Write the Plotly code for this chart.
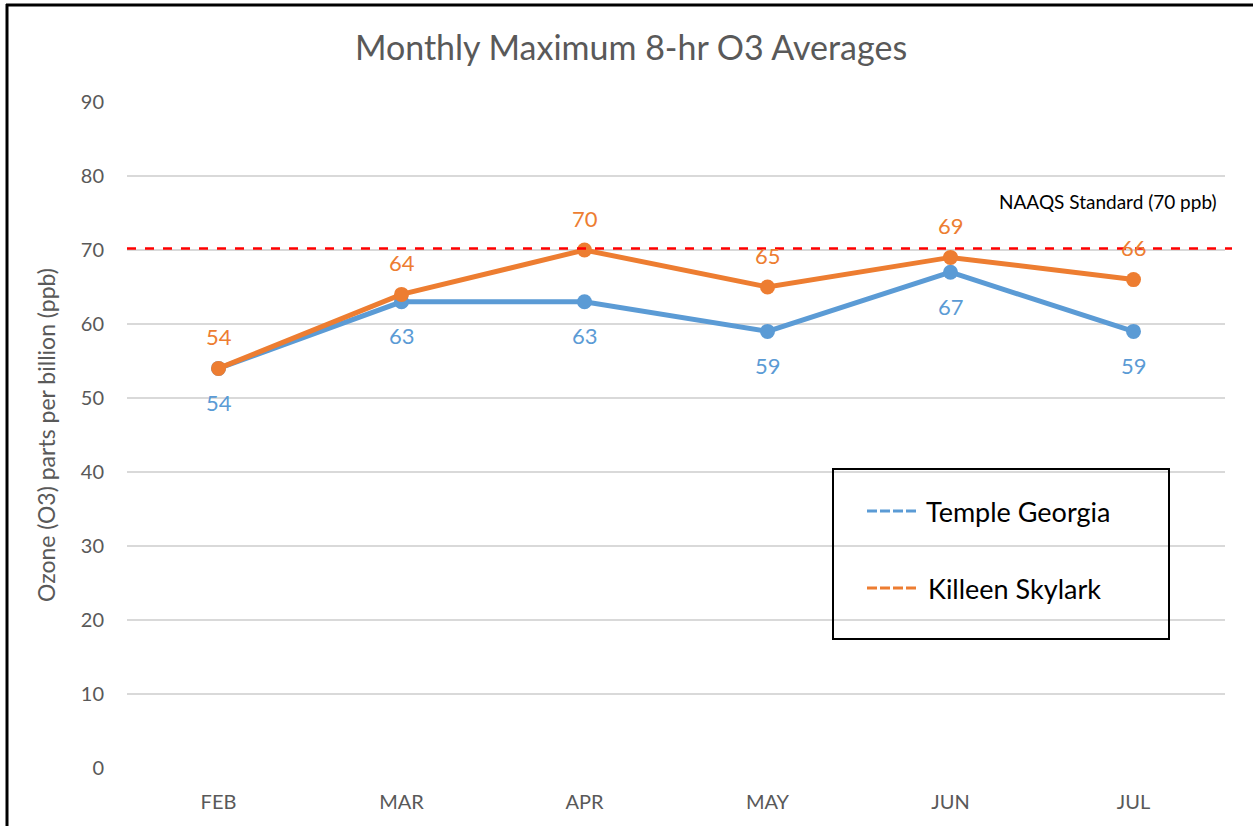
import plotly.graph_objects as go

months = ["FEB", "MAR", "APR", "MAY", "JUN", "JUL"]
temple = [54, 63, 63, 59, 67, 59]
killeen = [54, 64, 70, 65, 69, 66]
naaqs = 70.2
y_ticks = [0, 10, 20, 30, 40, 50, 60, 70, 80, 90]

BLUE = "#5B9BD5"
ORANGE = "#ED7D31"
GREY = "#595959"
FONT = "Lato"

W, H = 1253, 826
ML, MR, MT, MB = 127, 28, 102, 58
PW, PH = W - ML - MR, H - MT - MB

def px_x(p):
    return (p - ML) / PW

def px_y(p):
    return (H - MB - p) / PH

fig = go.Figure()
fig.add_trace(go.Scatter(x=months, y=temple, mode="lines+markers", name="Temple Georgia",
                         line=dict(color=BLUE, width=5), marker=dict(size=15, color=BLUE),
                         showlegend=False))
fig.add_trace(go.Scatter(x=months, y=killeen, mode="lines+markers", name="Killeen Skylark",
                         line=dict(color=ORANGE, width=5), marker=dict(size=15, color=ORANGE),
                         showlegend=False))

annotations = []
for m, v in zip(months, temple):
    annotations.append(dict(x=m, y=v, text=str(v), showarrow=False, yshift=-34,
                            font=dict(size=22, color=BLUE, family=FONT)))
for m, v in zip(months, killeen):
    annotations.append(dict(x=m, y=v, text=str(v), showarrow=False, yshift=32,
                            font=dict(size=22, color=ORANGE, family=FONT)))

annotations.append(dict(xref="paper", yref="y", x=px_x(1219), y=naaqs, xanchor="right",
                        yanchor="middle", yshift=47, text="NAAQS Standard (70 ppb)",
                        showarrow=False, font=dict(size=19, color="black", family=FONT)))

# legend (manual)
annotations.append(dict(xref="paper", yref="paper", x=px_x(924), y=px_y(511), xanchor="left",
                        yanchor="middle", text="Temple Georgia", showarrow=False,
                        font=dict(size=27, color="black", family=FONT)))
annotations.append(dict(xref="paper", yref="paper", x=px_x(926), y=px_y(588), xanchor="left",
                        yanchor="middle", text="Killeen Skylark", showarrow=False,
                        font=dict(size=27, color="black", family=FONT)))

shapes = [
    dict(type="line", xref="paper", yref="y", x0=0, x1=px_x(1232), y0=naaqs, y1=naaqs,
         line=dict(color="#FF0000", width=2.5, dash="dash")),
    dict(type="rect", xref="paper", yref="paper", x0=px_x(833), x1=px_x(1169),
         y0=px_y(639), y1=px_y(469), line=dict(color="black", width=2), fillcolor="rgba(0,0,0,0)"),
    dict(type="line", xref="paper", yref="paper", x0=px_x(867), x1=px_x(917),
         y0=px_y(511), y1=px_y(511), line=dict(color=BLUE, width=3, dash="10px,3px")),
    dict(type="line", xref="paper", yref="paper", x0=px_x(867), x1=px_x(917),
         y0=px_y(588), y1=px_y(588), line=dict(color=ORANGE, width=3, dash="10px,3px")),
    # outer frame: only top and left edges are visible in the crop
    dict(type="line", xref="paper", yref="paper", x0=px_x(6), x1=px_x(1260),
         y0=px_y(5), y1=px_y(5), line=dict(color="black", width=3)),
    dict(type="line", xref="paper", yref="paper", x0=px_x(7), x1=px_x(7),
         y0=px_y(4), y1=px_y(830), line=dict(color="black", width=3)),
]

fig.update_layout(
    width=W, height=H,
    margin=dict(l=ML, r=MR, t=MT, b=MB),
    paper_bgcolor="white", plot_bgcolor="white",
    title=dict(text="Monthly Maximum 8-hr O3 Averages", x=631 / W, xref="container", xanchor="center",
               y=1 - 48 / H, yanchor="middle",
               font=dict(size=34, color=GREY, family=FONT)),
    annotations=annotations,
    shapes=shapes,
    showlegend=False,
    font=dict(family=FONT, color=GREY),
)
fig.update_xaxes(range=[-0.5, 5.5], showgrid=False, zeroline=False, showline=False,
                 ticks="", tickfont=dict(size=20, color=GREY, family=FONT), ticklabelstandoff=20)
fig.update_yaxes(range=[0, 90], tickvals=y_ticks, showgrid=True, gridcolor="#D9D9D9", gridwidth=1.5,
                 zeroline=False, showline=False, ticks="",
                 tickfont=dict(size=20, color=GREY, family=FONT), ticklabelstandoff=22,
                 title=dict(text="Ozone (O3) parts per billion (ppb)", standoff=18,
                            font=dict(size=23, color=GREY, family=FONT)))

fig.write_html("out.html", config={"displayModeBar": False},
               post_script="document.body.style.margin='0';document.body.style.padding='0';")
